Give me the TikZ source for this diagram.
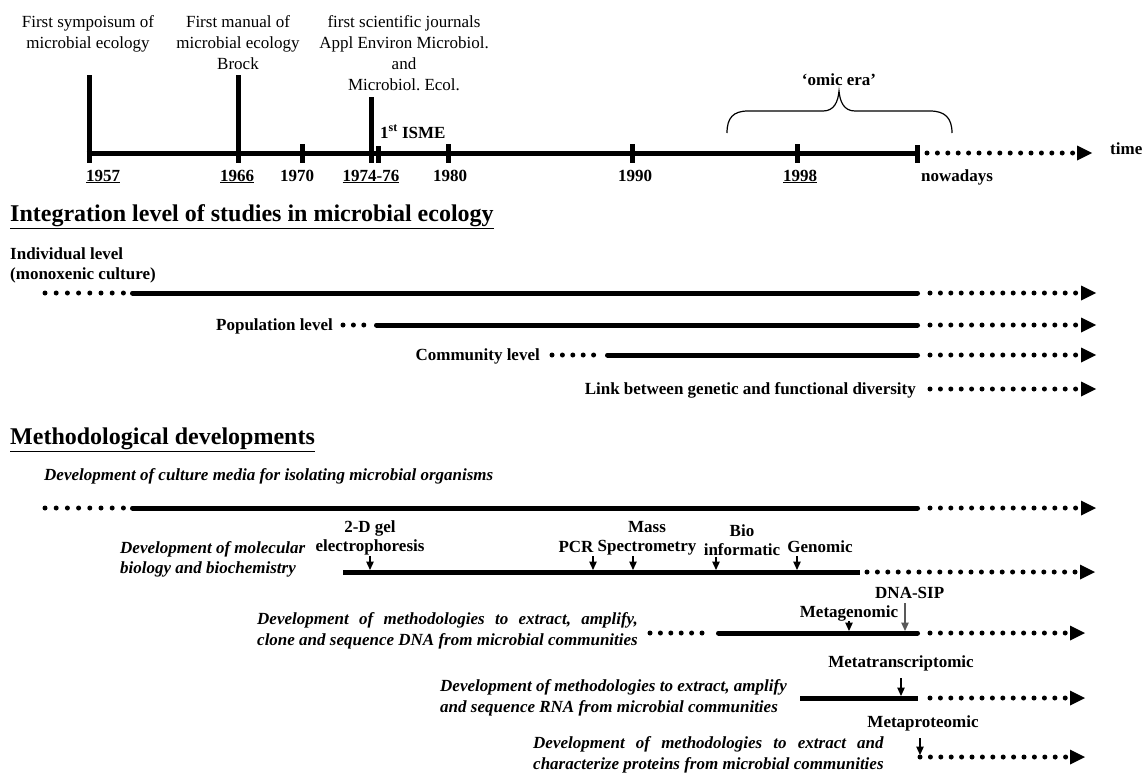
\documentclass[tikz,border=0pt]{standalone}
\usepackage{fontspec}
\setmainfont{Liberation Serif}
\usetikzlibrary{arrows.meta}
\frenchspacing
\newlength\dnaw
\newlength\protw
\AtBeginDocument{%
  \settowidth\dnaw{\fontsize{17}{21}\selectfont\bfseries\itshape clone and sequence DNA from microbial communities}%
  \settowidth\protw{\fontsize{17}{21}\selectfont\bfseries\itshape characterize proteins from microbial communities}}
\begin{document}
\begin{tikzpicture}[x=1pt,y=-1pt,
  lbl/.style={font=\fontsize{17}{21}\selectfont, inner sep=0pt, align=center},
  blbl/.style={font=\fontsize{17}{21}\selectfont\bfseries, inner sep=0pt},
  mlbl/.style={font=\fontsize{17}{19}\selectfont\bfseries, inner sep=0pt, align=center},
  bilbl/.style={font=\fontsize{17}{20.5}\selectfont\bfseries\itshape, inner sep=0pt, align=left},
  head/.style={font=\fontsize{24}{28}\selectfont\bfseries, inner sep=0pt, anchor=base west},
  axisline/.style={line width=5pt},
  solidline/.style={line width=5pt, line cap=round},
  dotline/.style={line width=5pt, line cap=round, dash pattern=on 0pt off #1},
  dotline/.default=10.4pt,
  smallarrow/.style={line width=1.2pt, -{Triangle[length=8.5pt,width=7.5pt]}},
  ahead/.pic={\fill (0,-7.5) -- (15,0) -- (0,7.5) -- cycle;}
]
\useasboundingbox (0,0) rectangle (1147,774);

% ---------------- timeline ----------------
\coordinate (t0) at (86.5,153);
\coordinate (tn) at (917,153);
\draw[axisline] (t0) -- (tn);
\foreach \x/\top in {89/75, 238/75, 302/144, 371/97, 378/146, 448/144, 632/144, 797/144, 917/145}
  \draw[axisline] (\x,\top) -- (\x,163);
\coordinate (td0) at (927,153);
\coordinate (td1) at (1072.9,153);
\draw[dotline] (td0) -- (td1);
\pic at (1077,153) {ahead};
\node[blbl, anchor=base west] (time) at (1110,154) {time};

\node[lbl, anchor=north] (n1957) at (88,15) {First sympoisum of\\microbial ecology};
\node[lbl, anchor=north] (n1966) at (238,15) {First manual of\\microbial ecology\\Brock};
\node[lbl, anchor=north] (n1974) at (404,15) {first scientific journals\\Appl Environ Microbiol.\\and\\Microbiol. Ecol.};
\node[blbl, anchor=base west] (isme) at (380,138) {1\textsuperscript{st} ISME};

\node[blbl, anchor=base] (y1957) at (103,181) {\underline{1957}};
\node[blbl, anchor=base] (y1966) at (237,181) {\underline{1966}};
\node[blbl, anchor=base] (y1970) at (297,181) {1970};
\node[blbl, anchor=base] (y1974) at (371,181) {\underline{1974-76}};
\node[blbl, anchor=base] (y1980) at (450,181) {1980};
\node[blbl, anchor=base] (y1990) at (635,181) {1990};
\node[blbl, anchor=base] (y1998) at (800,181) {\underline{1998}};
\node[blbl, anchor=base west] (now) at (921,181) {nowadays};

% omic era brace
\node[blbl, anchor=base] (omic) at (839,85) {‘omic era’};
\draw[line width=1.2pt] (727,133) .. controls (727,118) and (733,111) .. (748,111) -- (823,111)
  .. controls (834,111) and (838,102) .. (839,91)
  .. controls (840,102) and (844,111) .. (855,111) -- (930,111)
  .. controls (945,111) and (952,118) .. (952,133);

% ---------------- integration levels ----------------
\node[head] (h1) at (10,221) {\underline{Integration level of studies in microbial ecology}};

\node[blbl, anchor=north west, align=left, font=\fontsize{17}{20}\selectfont\bfseries] (indiv) at (10,247) {Individual level\\(monoxenic culture)};
\draw[dotline=11.2pt] (45,293) -- (123.6,293);
\draw[solidline] (132.5,293) -- (917.5,293);
\draw[dotline] (930,293) -- (1075.9,293);
\pic at (1081,293) {ahead};

\node[blbl, anchor=base east] (pop) at (333,330) {Population level};
\draw[dotline] (343,325) -- (364.1,325);
\draw[solidline] (376.5,325) -- (917.5,325);
\draw[dotline] (930,325) -- (1075.9,325);
\pic at (1081,325) {ahead};

\node[blbl, anchor=base east] (comm) at (540,360) {Community level};
\draw[dotline] (552,355) -- (593.9,355);
\draw[solidline] (607.5,355) -- (917.5,355);
\draw[dotline] (930,355) -- (1075.9,355);
\pic at (1081,355) {ahead};

\node[blbl, anchor=base east] (link) at (916,394) {Link between genetic and functional diversity};
\draw[dotline] (930,389) -- (1075.9,389);
\pic at (1081,389) {ahead};

% ---------------- methodological developments ----------------
\node[head] (h2) at (10,444) {\underline{Methodological developments}};

\node[bilbl, anchor=base west] (culture) at (44,480) {Development of culture media for isolating microbial organisms};
\draw[dotline=11.2pt] (45,508) -- (123.6,508);
\draw[solidline] (132.5,508) -- (917.5,508);
\draw[dotline] (930,508) -- (1075.9,508);
\pic at (1081,508) {ahead};

\node[bilbl, anchor=north west] (molec) at (120,541) {Development of molecular\\biology and biochemistry};
\draw[line width=5pt] (343,572) -- (860,572);
\draw[dotline] (867,572) -- (1075.3,572);
\pic at (1080,572) {ahead};

\node[mlbl, anchor=north] (gel) at (370,520) {2-D gel\\electrophoresis};
\node[blbl, anchor=base] (pcr) at (576,552) {PCR};
\node[mlbl, anchor=north] (mass) at (647,521) {Mass\\Spectrometry};
\node[mlbl, anchor=north] (bio) at (742,524) {Bio\\informatic};
\node[blbl, anchor=base] (genomic) at (820,552) {Genomic};
\draw[smallarrow] (370,556) -- (370,570);
\draw[smallarrow] (593,556) -- (593,570);
\draw[smallarrow] (633,556) -- (633,570);
\draw[smallarrow] (716,557) -- (716,570);
\draw[smallarrow] (797,556) -- (797,570);

\node[blbl, anchor=base west] (sip) at (875,598) {DNA-SIP};
\node[blbl, anchor=base] (metag) at (849,617) {Metagenomic};
\draw[smallarrow, draw=black!65, fill=black!65] (905,603) -- (905,631);
\draw[smallarrow] (849,621) -- (849,631);

\node[bilbl, anchor=north west] (dna) at (257,612.5) {\makebox[\dnaw][s]{Development of methodologies to extract, amplify,}\\clone and sequence DNA from microbial communities};
\draw[dotline] (650,633) -- (702.3,633);
\draw[solidline] (718.5,633) -- (917.5,633);
\draw[dotline] (930,633) -- (1065.5,633);
\pic at (1070,633) {ahead};

\node[blbl, anchor=base] (metat) at (901,667) {Metatranscriptomic};
\draw[smallarrow] (901,678) -- (901,696);
\node[bilbl, anchor=north west] (rna) at (440,679.5) {Development of methodologies to extract, amplify\\and sequence RNA from microbial communities};
\draw[line width=5pt] (800,698) -- (918,698);
\draw[dotline] (930,698) -- (1065.5,698);
\pic at (1070,698) {ahead};

\node[blbl, anchor=base] (metap) at (923,727) {Metaproteomic};
\draw[smallarrow] (920,738) -- (920,755);
\node[bilbl, anchor=north west] (prot) at (533,736.5) {\makebox[\protw][s]{Development of methodologies to extract and}\\characterize proteins from microbial communities};
\draw[dotline] (920,757) -- (1065.9,757);
\pic at (1070,757) {ahead};
\end{tikzpicture}
\end{document}
